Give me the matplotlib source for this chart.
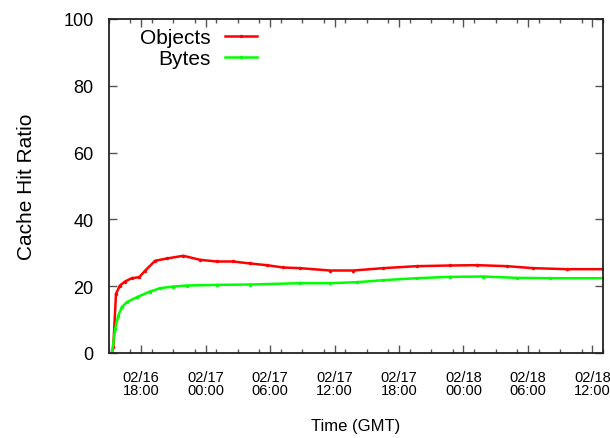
import matplotlib
matplotlib.use("Agg")
import matplotlib.pyplot as plt
import matplotlib.dates as mdates
import pandas as pd

plt.rcParams["font.family"] = ["Liberation Sans", "DejaVu Sans"]

# Objects hit ratio (%)
obj_times = ["02-16 15:17", "02-16 15:24", "02-16 15:39", "02-16 16:01", "02-16 16:29",
             "02-16 17:07", "02-16 17:49", "02-16 18:21", "02-16 19:17", "02-16 20:23",
             "02-16 21:55", "02-16 23:29", "02-17 01:02", "02-17 02:33", "02-17 04:08",
             "02-17 05:41", "02-17 07:13", "02-17 08:48", "02-17 11:35", "02-17 13:44",
             "02-17 16:32", "02-17 19:40", "02-17 22:46", "02-18 01:15", "02-18 04:03",
             "02-18 06:30", "02-18 09:38", "02-18 12:58"]
obj_vals = [0, 1.8, 17.7, 20.2, 21.4, 22.4, 22.7, 24.6, 27.6, 28.3,
            29.1, 27.9, 27.4, 27.4, 26.8, 26.3, 25.6, 25.4, 24.7, 24.7,
            25.4, 26.0, 26.2, 26.3, 26.0, 25.4, 25.1, 25.1]

# Bytes hit ratio (%)
byte_times = ["02-16 15:17", "02-16 15:34", "02-16 15:52", "02-16 16:11", "02-16 16:39",
              "02-16 17:35", "02-16 18:49", "02-16 19:45", "02-16 20:59", "02-16 22:14",
              "02-17 01:02", "02-17 04:08", "02-17 08:48", "02-17 11:35", "02-17 14:05",
              "02-17 16:33", "02-17 19:40", "02-17 22:46", "02-18 01:52", "02-18 04:59",
              "02-18 08:05", "02-18 12:58"]
byte_vals = [0, 7.2, 11.2, 13.7, 15.2, 16.7, 18.4, 19.4, 19.9, 20.2,
             20.4, 20.5, 20.9, 20.9, 21.2, 21.8, 22.4, 22.8, 22.9, 22.5,
             22.4, 22.4]

def to_dt(ts):
    return pd.to_datetime(["2009-" + t for t in ts])

fig = plt.figure(figsize=(6.10, 4.39), dpi=100)
ax = fig.add_axes([109 / 610, 1 - 354 / 439, 494 / 610, 334 / 439])

ax.plot(to_dt(obj_times), obj_vals, color="#ff0000", lw=1.8, marker="o", ms=1.5,
        label="Objects")
ax.plot(to_dt(byte_times), byte_vals, color="#00ff00", lw=1.8, marker="o", ms=1.5,
        label="Bytes")

ax.set_xlim(pd.Timestamp("2009-02-16 15:00"), pd.Timestamp("2009-02-18 13:00"))
ax.set_ylim(0, 100)
ax.set_yticks([0, 20, 40, 60, 80, 100])

ax.xaxis.set_major_locator(mdates.HourLocator(byhour=[0, 6, 12, 18]))
ax.xaxis.set_minor_locator(mdates.HourLocator(interval=2))
ax.xaxis.set_major_formatter(mdates.DateFormatter("%m/%d\n%H:%M"))

ax.tick_params(axis="both", which="both", direction="in", top=True, right=True,
               color="#555555")
ax.tick_params(axis="both", which="major", length=6, width=1)
ax.tick_params(axis="both", which="minor", length=3, width=1)
ax.tick_params(axis="x", which="major", labelsize=10.5, pad=12)
ax.tick_params(axis="y", which="major", labelsize=13, pad=11)
for lbl in ax.get_xticklabels():
    lbl.set_linespacing(0.95)
for s in ax.spines.values():
    s.set_linewidth(1.3)
    s.set_color("#222222")

ax.set_xlabel("Time (GMT)", fontsize=12, labelpad=15)
ax.set_ylabel("Cache Hit Ratio", fontsize=15, labelpad=20)

ax.legend(loc="upper left", bbox_to_anchor=(0.063, 0.972), frameon=False,
          markerfirst=False, fontsize=15, handlelength=1.54, handletextpad=0.67,
          borderaxespad=0, borderpad=0, labelspacing=0.08, numpoints=1)

fig.savefig("out.png", dpi=100)
